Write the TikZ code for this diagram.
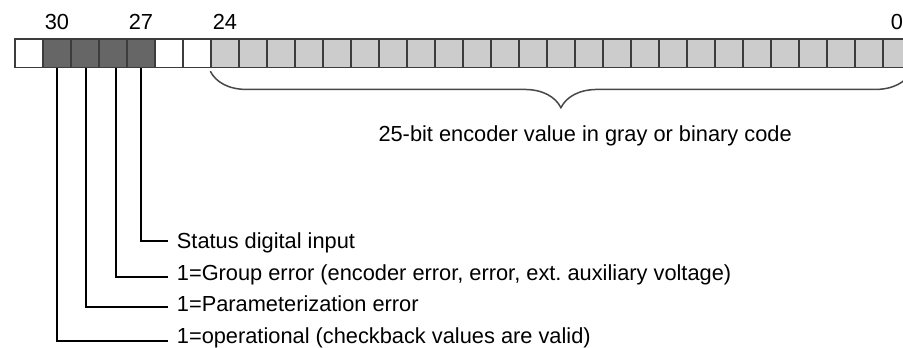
\documentclass[tikz,border=0pt]{standalone}
\usepackage{fontspec}
\setmainfont{Liberation Sans}
\usetikzlibrary{calc,decorations.pathreplacing,positioning}
\definecolor{cellline}{HTML}{3C3C3C}
\definecolor{darkcell}{HTML}{666666}
\definecolor{lightcell}{HTML}{CCCCCC}
\definecolor{bracegray}{HTML}{484848}
\frenchspacing

\begin{document}
\begin{tikzpicture}[
  x=1pt, y=-1pt,
  every node/.style={font=\fontsize{21.8}{26}\selectfont, text=black, inner sep=0pt},
  bitcell/.style={draw=cellline, line width=1.2pt, minimum width=28pt, minimum height=28.4pt, anchor=north west},
  bitnum/.style={anchor=base},
  desc/.style={anchor=base west},
  lead/.style={draw=black, line width=2pt},
  valbrace/.style={draw=bracegray, line width=1.5pt, decorate, decoration={brace, mirror, amplitude=36.5pt}}
]
\fill[white] (0,0) rectangle (903,348);
\useasboundingbox (0,0) rectangle (903,348);

\foreach \bit in {31,26,25}
  \node[bitcell, fill=white] (b\bit) at ({14.3+28*(31-\bit)},38.3) {};
\foreach \bit in {27,...,30}
  \node[bitcell, fill=darkcell] (b\bit) at ({14.3+28*(31-\bit)},38.3) {};
\foreach \bit in {0,...,24}
  \node[bitcell, fill=lightcell] (b\bit) at ({14.3+28*(31-\bit)},38.3) {};

\node[bitnum] (n30) at (b30.center |- 0,29) {30};
\node[bitnum] (n27) at (b27.center |- 0,29) {27};
\node[bitnum] (n24) at (b24.center |- 0,29) {24};
\node[bitnum] (n0) at (b0.center |- 0,29) {0};

\draw[valbrace] ($(b24.south west)+(0,3.3)$) -- ($(b0.south east)+(0,3.3)$);
\node[desc] (val) at (378.3,141) {25-bit encoder value in gray or binary code};

\node[desc] (d27) at (176.7,248) {Status digital input};
\node[desc] (d28) at (176.7,280.7) {1=Group error (encoder error, error, ext. auxiliary voltage)};
\node[desc] (d29) at (176.7,311.3) {1=Parameterization error};
\node[desc] (d30) at (176.7,343) {1=operational (checkback values are valid)};

\draw[lead] (b27.south) |- ($(d27.base west)+(-8.7,-6.7)$);
\draw[lead] ([xshift=3.5pt]b28.south) |- ($(d28.base west)+(-8.7,-3.4)$);
\draw[lead] ([xshift=1.5pt]b29.south) |- ($(d29.base west)+(-8.7,-4.3)$);
\draw[lead] ([xshift=0.5pt]b30.south) |- ($(d30.base west)+(-8.7,-2.3)$);
\end{tikzpicture}
\end{document}
